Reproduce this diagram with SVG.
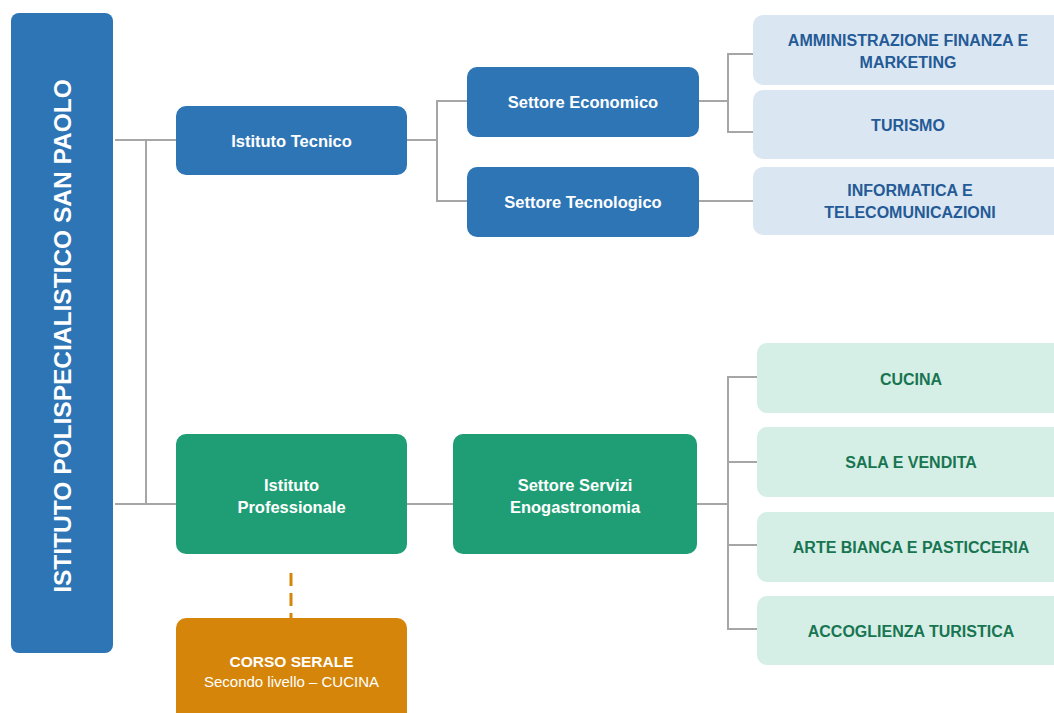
<svg xmlns="http://www.w3.org/2000/svg" width="1054" height="713" viewBox="0 0 1054 713">
<style>
.bg{fill:#ffffff}
.main{fill:#2E75B6}
.blue{fill:#2E75B6}
.lblue{fill:#DAE6F2}
.green{fill:#1F9E75}
.lgreen{fill:#D6EFE6}
.orange{fill:#D5860A}
.conn{fill:none;stroke:#A6A6A6;stroke-width:2}
.dash{fill:none;stroke:#D5860A;stroke-width:3;stroke-dasharray:13 7}
text{font-family:"Liberation Sans",Arial,sans-serif;text-anchor:middle}
.tw{fill:#ffffff;font-weight:bold;font-size:16.5px}
.title{fill:#ffffff;font-weight:bold;font-size:24.5px}
.tb{fill:#245A96;font-weight:bold;font-size:16px}
.tg{fill:#187552;font-weight:bold;font-size:16px}
.sub{fill:#ffffff;font-size:15px}
</style>
<rect class="bg" x="0" y="0" width="1054" height="713"/>
<g id="connectors">
<polyline class="conn" points="115,140 176,140"/>
<polyline class="conn" points="146,140 146,504"/>
<polyline class="conn" points="115,504 176,504"/>
<polyline class="conn" points="407,140 437,140"/>
<polyline class="conn" points="467,101 437,101 437,201 467,201"/>
<polyline class="conn" points="699,101 728,101"/>
<polyline class="conn" points="753,54 728,54 728,132 753,132"/>
<polyline class="conn" points="699,201 753,201"/>
<polyline class="conn" points="407,504 453,504"/>
<polyline class="conn" points="697,504 728,504"/>
<polyline class="conn" points="757,377 728,377 728,629 757,629"/>
<polyline class="conn" points="728,462 757,462"/>
<polyline class="conn" points="728,545 757,545"/>
<line class="dash" x1="291" y1="573" x2="291" y2="618"/>
</g>
<g id="root">
<rect class="main" x="11" y="13" width="102" height="640" rx="8"/>
<text class="title" x="71" y="336" transform="rotate(-90 71 336)">ISTITUTO POLISPECIALISTICO SAN PAOLO</text>
</g>
<g id="istituto-tecnico">
<rect class="blue" x="176" y="106" width="231" height="69" rx="10"/>
<text class="tw" x="291.5" y="147">Istituto Tecnico</text>
</g>
<g id="settore-economico">
<rect class="blue" x="467" y="67" width="232" height="70" rx="10"/>
<text class="tw" x="583" y="108">Settore Economico</text>
</g>
<g id="settore-tecnologico">
<rect class="blue" x="467" y="167" width="232" height="70" rx="10"/>
<text class="tw" x="583" y="208">Settore Tecnologico</text>
</g>
<g id="afm">
<rect class="lblue" x="753" y="15" width="320" height="70" rx="10"/>
<text class="tb" x="908" y="46">AMMINISTRAZIONE FINANZA E</text>
<text class="tb" x="908" y="68">MARKETING</text>
</g>
<g id="turismo">
<rect class="lblue" x="753" y="90" width="320" height="69" rx="10"/>
<text class="tb" x="908" y="131">TURISMO</text>
</g>
<g id="informatica">
<rect class="lblue" x="753" y="167" width="320" height="68" rx="10"/>
<text class="tb" x="910" y="196">INFORMATICA E</text>
<text class="tb" x="910" y="218">TELECOMUNICAZIONI</text>
</g>
<g id="istituto-professionale">
<rect class="green" x="176" y="434" width="231" height="120" rx="10"/>
<text class="tw" x="291.5" y="491">Istituto</text>
<text class="tw" x="291.5" y="513">Professionale</text>
</g>
<g id="settore-servizi">
<rect class="green" x="453" y="434" width="244" height="120" rx="10"/>
<text class="tw" x="575" y="491">Settore Servizi</text>
<text class="tw" x="575" y="513">Enogastronomia</text>
</g>
<g id="cucina">
<rect class="lgreen" x="757" y="343" width="320" height="70" rx="10"/>
<text class="tg" x="911" y="385">CUCINA</text>
</g>
<g id="sala">
<rect class="lgreen" x="757" y="427" width="320" height="70" rx="10"/>
<text class="tg" x="911" y="468">SALA E VENDITA</text>
</g>
<g id="arte-bianca">
<rect class="lgreen" x="757" y="512" width="320" height="70" rx="10"/>
<text class="tg" x="911" y="553">ARTE BIANCA E PASTICCERIA</text>
</g>
<g id="accoglienza">
<rect class="lgreen" x="757" y="596" width="320" height="69" rx="10"/>
<text class="tg" x="911" y="637">ACCOGLIENZA TURISTICA</text>
</g>
<g id="corso-serale">
<rect class="orange" x="176" y="618" width="231" height="110" rx="10"/>
<text class="tw" x="291.5" y="667" style="font-size:15.5px">CORSO SERALE</text>
<text class="sub" x="291.5" y="687">Secondo livello – CUCINA</text>
</g>
</svg>
